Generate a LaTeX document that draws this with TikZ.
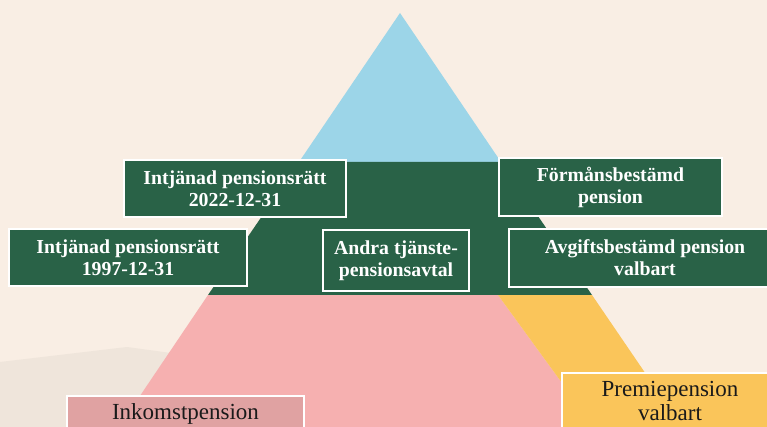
\documentclass[tikz,border=0pt]{standalone}
\usepackage{fontspec}
\setmainfont{Liberation Serif}
\definecolor{bgcream}{HTML}{F9EEE4}
\definecolor{bgbeige}{HTML}{EFE5DB}
\definecolor{pblue}{HTML}{9CD5E8}
\definecolor{pgreen}{HTML}{296247}
\definecolor{ppink}{HTML}{F6B0B0}
\definecolor{ppinkbox}{HTML}{E0A2A2}
\definecolor{pyellow}{HTML}{FAC55A}
\definecolor{darktext}{HTML}{1A1A1A}
\begin{document}
\begin{tikzpicture}[x=1pt,y=-1pt,
  gbox/.style={draw=white, line width=2pt, fill=pgreen, text=white,
    font=\bfseries\fontsize{19.8}{22}\selectfont, align=center, inner sep=0pt},
  lbox/.style={draw=white, line width=2pt, text=darktext,
    font=\fontsize{23}{23.5}\selectfont, align=center, inner sep=0pt}]
\useasboundingbox (0,0) rectangle (767,427);
\clip (0,0) rectangle (767,427);
% background
\fill[bgcream] (0,0) rectangle (767,427);
\fill[bgbeige] (0,362) -- (127,347) -- (200,357) -- (200,427) -- (0,427) -- cycle;
% pyramid layers
\fill[pblue] (400,13) -- (299,162) -- (501,162) -- cycle;
\fill[pgreen] (299,162) -- (501,162) -- (592,295) -- (208,295) -- cycle;
\fill[ppink] (208,295) -- (498,295) -- (594,427) -- (119,427) -- cycle;
\fill[pyellow] (498,295) -- (592,295) -- (682,427) -- (594,427) -- cycle;
% boxes
\node[gbox, minimum width=222pt, minimum height=57pt] (ip22) at (235,188.5) {Intjänad pensionsrätt\\2022-12-31};
\node[gbox, minimum width=238pt, minimum height=57pt] (ip97) at (128,257.5) {Intjänad pensionsrätt\\1997-12-31};
\node[gbox, minimum width=146pt, minimum height=61pt] (andra) at (396,260.5) {Andra tjänste-\\pensionsavtal};
\node[gbox, minimum width=223pt, minimum height=58pt] (forman) at (610.5,187) {Förmånsbestämd\\pension};
\node[gbox, minimum width=272pt, minimum height=58pt] (avgift) at (645,258) {Avgiftsbestämd pension\\valbart};
\node[lbox, fill=ppinkbox, minimum width=237pt, minimum height=37pt] (inkomst) at (185.5,414) {Inkomstpension};
\node[lbox, fill=pyellow, minimum width=216pt, minimum height=56pt] (premie) at (670,401) {Premiepension\\valbart};
\end{tikzpicture}
\end{document}
